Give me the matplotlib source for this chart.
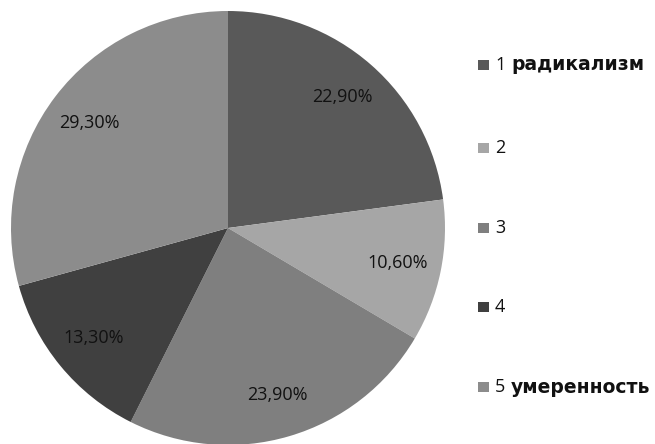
import matplotlib
matplotlib.use("Agg")
import matplotlib.pyplot as plt
from matplotlib.patches import Rectangle
import numpy as np

categories = ["1", "2", "3", "4", "5"]
descriptions = ["радикализм", "", "", "", "умеренность"]
values = [22.9, 10.6, 23.9, 13.3, 29.3]
value_labels = ["22,90%", "10,60%", "23,90%", "13,30%", "29,30%"]
colors = ["#595959", "#a6a6a6", "#7f7f7f", "#404040", "#8c8c8c"]

W, H = 655, 444
fig = plt.figure(figsize=(W / 100, H / 100), dpi=100)
cx, cy, R = 228, 228, 217
ax = fig.add_axes([(cx - R) / W, (H - cy - R) / H, 2 * R / W, 2 * R / H])
wedges, _ = ax.pie(values, colors=colors, startangle=90, counterclock=False,
                   radius=1, wedgeprops=dict(linewidth=0))
for w, lab in zip(wedges, value_labels):
    ang = np.deg2rad((w.theta1 + w.theta2) / 2)
    ax.text(0.8 * np.cos(ang), 0.8 * np.sin(ang), lab, ha="center", va="center",
            fontsize=13, family="Open Sans", color="#111111")
ax.set_xlim(-1, 1)
ax.set_ylim(-1, 1)
ax.set_aspect("equal")
ax.axis("off")

ys = [65, 148, 228, 307, 387]
for cat, desc, col, y in zip(categories, descriptions, colors, ys):
    fig.patches.append(Rectangle((478 / W, (H - y - 5) / H), 11 / W, 10 / H,
                                 transform=fig.transFigure, facecolor=col, edgecolor="none"))
    fig.text(495 / W, (H - y) / H, cat, ha="left", va="center", fontsize=13,
             family="Open Sans", color="#111111")
    if desc:
        fig.text(511 / W, (H - y) / H, desc, ha="left", va="center", fontsize=13.5,
                 family="DejaVu Sans", fontweight="bold", color="#111111")

fig.savefig("out.png", dpi=100)
